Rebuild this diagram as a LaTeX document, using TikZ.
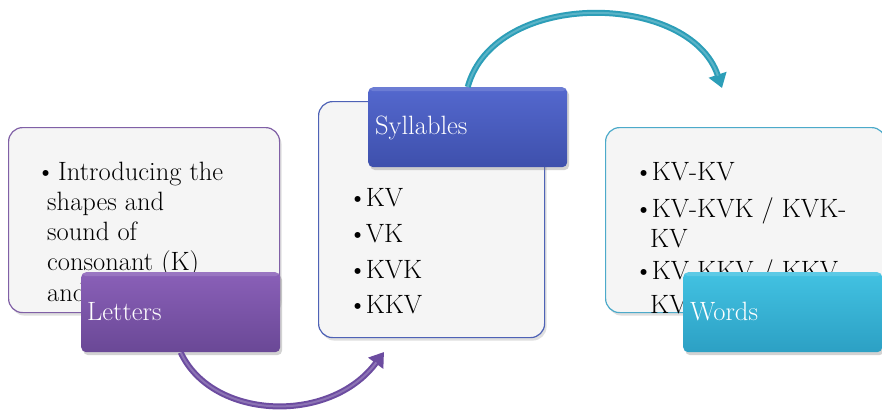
\documentclass[tikz,border=0pt]{standalone}
\usepackage{fontspec}
\usetikzlibrary{arrows.meta,shadows}

\definecolor{boxfill}{RGB}{245,245,245}
\definecolor{letEdge}{RGB}{128,96,166}
\definecolor{sylEdge}{RGB}{78,98,182}
\definecolor{wrdEdge}{RGB}{76,170,202}
\definecolor{letTop}{RGB}{138,96,184}
\definecolor{letBot}{RGB}{106,72,150}
\definecolor{sylTop}{RGB}{84,104,206}
\definecolor{sylBot}{RGB}{62,80,172}
\definecolor{wrdTop}{RGB}{66,194,226}
\definecolor{wrdBot}{RGB}{44,160,196}
\definecolor{arrP}{RGB}{108,76,160}
\definecolor{arrT}{RGB}{44,158,184}

\tikzset{
  textbox/.style={draw=#1, line width=1.2pt, fill=boxfill, rounded corners=14pt,
    anchor=north west, inner sep=0pt,
    drop shadow={shadow xshift=2pt, shadow yshift=-3pt, opacity=0.25}},
  labelbox/.style n args={2}{rounded corners=5pt, anchor=north west, inner sep=0pt,
    minimum width=199pt, minimum height=80pt, top color=#1, bottom color=#2,
    drop shadow={shadow xshift=2pt, shadow yshift=-3pt, opacity=0.35},
    path picture={\fill[white,opacity=0.14] (path picture bounding box.north west)
      rectangle ([yshift=-4pt]path picture bounding box.north east);}},
  labeltext/.style={anchor=base west, inner sep=0pt, text=white},
  line/.style={anchor=base west, inner sep=0pt, text=black},
  flowarrow/.style={draw=#1, line width=6pt,
    -{Triangle[length=14pt,width=18pt]},
    postaction={draw=white, draw opacity=0.22, line width=2pt, -, shorten >=13pt}},
}
\newcommand{\bul}{\textbullet\kern-1.5pt}

\begin{document}
\begin{tikzpicture}[x=1pt, y=-1pt, font=\fontsize{26.5}{30}\selectfont]
\useasboundingbox (0,0) rectangle (882,413);
\fill[white] (0,0) rectangle (882,413);

% text panels
\node[textbox=letEdge, minimum width=271pt, minimum height=185pt] (lbox) at (8,127) {};
\node[textbox=sylEdge, minimum width=226pt, minimum height=236pt] (sbox) at (318,101) {};
\node[textbox=wrdEdge, minimum width=280pt, minimum height=185pt] (wbox) at (605,127) {};

% panel contents: letters
\node[line] (l1b) at (36,180) {\textbullet};
\node[line] (l1) at (58,180) {Introducing the};
\node[line] (l2) at (47,210) {shapes and};
\node[line] (l3) at (47,240) {sound of};
\node[line] (l4) at (47,270) {consonant (K)};
\node[line] (l5) at (47,301) {and};

% panel contents: syllables
\node[line] (s1) at (348,206) {\bul KV};
\node[line] (s2) at (348,242) {\bul VK};
\node[line] (s3) at (348,278) {\bul KVK};
\node[line] (s4) at (348,313) {\bul KKV};

% panel contents: words
\node[line] (w1) at (634,180) {\bul KV-KV};
\node[line] (w2) at (634,217) {\bul KV-KVK / KVK-};
\node[line] (w3) at (650,247) {KV};
\node[line] (w4) at (634,279) {\bul KV-KKV / KKV-};
\node[line] (w5) at (650,313) {KV};

% curved connectors between the stages
\coordinate (pend) at (384,352);
\coordinate (tend) at (722,88);

% title tabs
\node[labelbox={letTop}{letBot}] (llabel) at (81,272) {};
\node[labelbox={sylTop}{sylBot}] (slabel) at (368,87) {};
\node[labelbox={wrdTop}{wrdBot}] (wlabel) at (683,272) {};

\draw[flowarrow=arrP] (llabel.south) .. controls (212,420) and (330,425) .. (pend);
\draw[flowarrow=arrT] (slabel.north) .. controls (495,-12) and (690,-8) .. (tend);

\node[labeltext] (lt) at (87,320) {Letters};
\node[labeltext] (st) at (375,134) {Syllables};
\node[labeltext] (wt) at (690,320) {Words};
\end{tikzpicture}
\end{document}
